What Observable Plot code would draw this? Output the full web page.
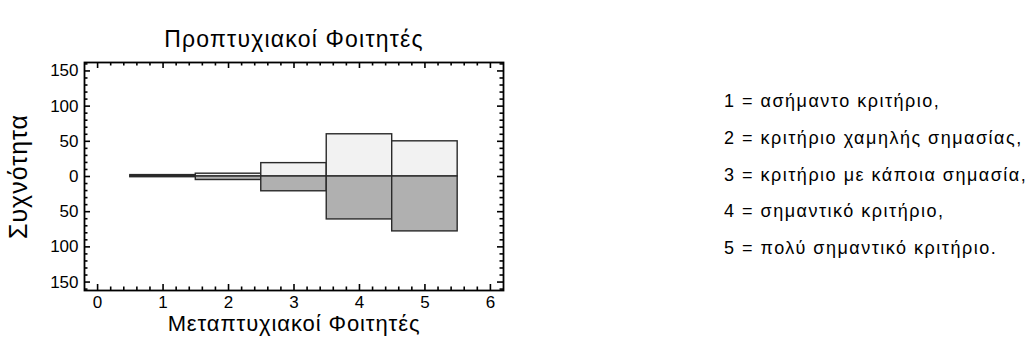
<!DOCTYPE html>
<html><head><meta charset="utf-8">
<script src="https://cdn.jsdelivr.net/npm/d3@7"></script>
<script src="https://cdn.jsdelivr.net/npm/@observablehq/plot@0.6"></script>
<style>
body{margin:0;background:#fff;font-family:"Liberation Sans",Arial,sans-serif;}
#wrap{position:relative;width:1029px;height:351px;}
#legend{position:absolute;left:724px;top:83.4px;font-size:18px;letter-spacing:1.5px;line-height:36.65px;color:#000;white-space:nowrap;}
</style></head><body>
<div id="wrap"><div id="legend"></div></div>
<script>
const categories = [1, 2, 3, 4, 5];
const undergrad = [2, 4, 19, 60, 50];
const postgrad = [1, 5, 21, 61, 78];
const xTicks = [0, 1, 2, 3, 4, 5, 6];
const yTicks = [-150, -100, -50, 0, 50, 100, 150];
const title = "Προπτυχιακοί Φοιτητές";
const xLabel = "Μεταπτυχιακοί Φοιτητές";
const yLabel = "Συχνότητα";
const legendLines = [
  "1 = ασήμαντο κριτήριο,",
  "2 = κριτήριο χαμηλής σημασίας,",
  "3 = κριτήριο με κάποια σημασία,",
  "4 = σημαντικό κριτήριο,",
  "5 = πολύ σημαντικό κριτήριο."
];

const W = 1029, H = 351, ML = 84, MR = 526, MT = 62, MB = 61;
const PW = W - ML - MR, PH = H - MT - MB;

const topBars = categories.map((c, i) => ({x1: c - 0.5, x2: c + 0.5, v: undergrad[i]}));
const bottomBars = categories.map((c, i) => ({x1: c - 0.5, x2: c + 0.5, v: -postgrad[i]}));
const xMinor = d3.range(0, 31).map(i => i / 5).filter(v => Math.abs(v - Math.round(v)) > 1e-9);
const yMinor = d3.range(-160, 161, 10).filter(v => v % 50 !== 0);

const tickStyle = {stroke: "#000", strokeWidth: 1.6};
const xTickMarks = (values, len) => [
  Plot.tickX(values, {x: d => d, insetTop: PH - len, ...tickStyle}),
  Plot.tickX(values, {x: d => d, insetBottom: PH - len, ...tickStyle})
];
const yTickMarks = (values, len) => [
  Plot.tickY(values, {y: d => d, insetRight: PW - len, ...tickStyle}),
  Plot.tickY(values, {y: d => d, insetLeft: PW - len, ...tickStyle})
];

const chart = Plot.plot({
  width: W,
  height: H,
  marginLeft: ML,
  marginRight: MR,
  marginTop: MT,
  marginBottom: MB,
  style: {fontFamily: "Liberation Sans, Arial, sans-serif", fontSize: "17px", background: "white", color: "#000"},
  x: {domain: [-0.2, 6.2]},
  y: {domain: [-162, 162]},
  marks: [
    Plot.rectY(topBars, {x1: "x1", x2: "x2", y1: 0, y2: "v", fill: "#f2f2f2", stroke: "#2a2a2a", strokeWidth: 1.4}),
    Plot.rectY(bottomBars, {x1: "x1", x2: "x2", y1: 0, y2: "v", fill: "#b0b0b0", stroke: "#2a2a2a", strokeWidth: 1.4}),
    ...xTickMarks(xTicks, 6), ...xTickMarks(xMinor, 3.5),
    ...yTickMarks(yTicks, 6), ...yTickMarks(yMinor, 3.5),
    Plot.frame({stroke: "#000", strokeWidth: 1.8}),
    Plot.axisY(yTicks, {anchor: "left", tickSize: 0, tickPadding: 6, tickFormat: d => Math.abs(d), label: null, fontSize: 17}),
    Plot.axisX(xTicks, {anchor: "bottom", tickSize: 0, tickPadding: 5, label: null, fontSize: 17}),
    Plot.text([title], {frameAnchor: "top", dy: -32, fontSize: 23}),
    Plot.text([xLabel], {frameAnchor: "bottom", dy: 40, fontSize: 22}),
    Plot.text([yLabel], {frameAnchor: "left", textAnchor: "middle", dx: -66, rotate: -90, fontSize: 25})
  ]
});
chart.querySelectorAll("text").forEach(t => {
  const txt = t.textContent;
  if (txt === title) t.style.letterSpacing = "1.2px";
  if (txt === xLabel) t.style.letterSpacing = "0.9px";
  if (txt === yLabel) t.style.letterSpacing = "1px";
});
const wrap = document.getElementById("wrap");
wrap.insertBefore(chart, wrap.firstChild);
document.getElementById("legend").innerHTML = legendLines.map(t => `<div>${t}</div>`).join("");
</script>
</body></html>
